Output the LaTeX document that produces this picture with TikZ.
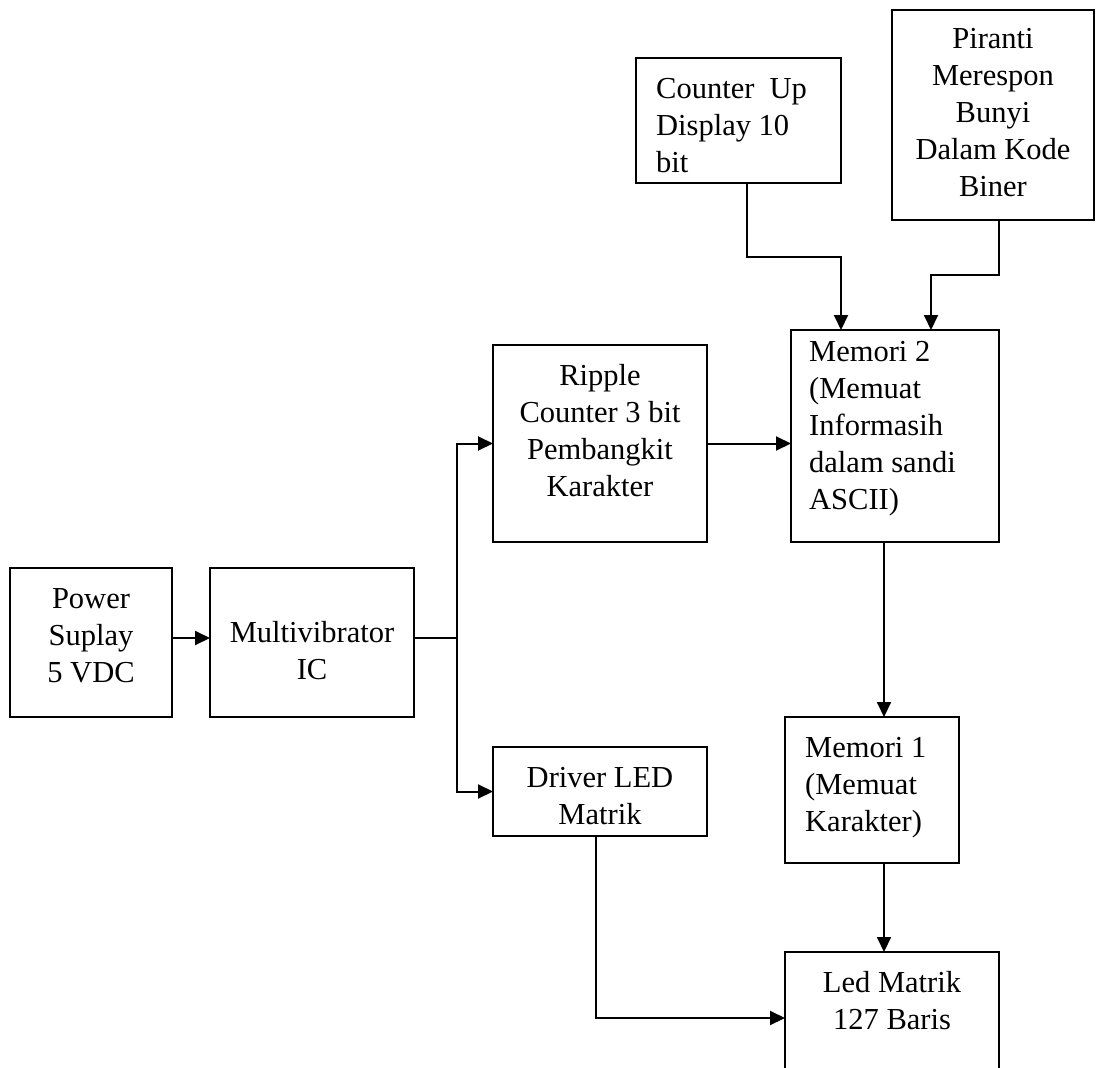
\documentclass[tikz,border=0pt]{standalone}
\usepackage{fontspec}
\setmainfont{Liberation Serif}
\usetikzlibrary{arrows.meta}
\begin{document}
\begin{tikzpicture}[x=1pt,y=-1pt,
  box/.style={draw,line width=2pt,inner sep=0pt,outer sep=0pt,anchor=north west},
  txt/.style={inner sep=0pt,font=\fontsize{30.5}{37}\selectfont},
  arr/.style={line width=2pt,-{Triangle[length=15pt,width=14pt]}},
  ln/.style={line width=2pt}]
\useasboundingbox (0,0) rectangle (1096,1068);

% boxes
\node[box,minimum width=162pt,minimum height=149pt] (power)   at (10,568)  {};
\node[box,minimum width=204pt,minimum height=149pt] (multi)   at (210,568) {};
\node[box,minimum width=214pt,minimum height=197pt] (ripple)  at (493,345) {};
\node[box,minimum width=214pt,minimum height=89pt]  (driver)  at (493,747) {};
\node[box,minimum width=208pt,minimum height=212pt] (mem2)    at (791,330) {};
\node[box,minimum width=205pt,minimum height=125pt] (counter) at (636,58)  {};
\node[box,minimum width=202pt,minimum height=210pt] (piranti) at (892,10)  {};
\node[box,minimum width=174pt,minimum height=146pt] (mem1)    at (785,717) {};
\node[box,minimum width=214pt,minimum height=140pt] (led)     at (785,952) {};

% texts
\node[txt,anchor=north,align=center] (powert) at (91,582.1) {\strut Power\\Suplay\\5 VDC};
\node[txt,anchor=north,align=center] (multit) at (312,616.1) {\strut Multivibrator\\IC};
\node[txt,anchor=north,align=center] (ripplet) at (600,359.1) {\strut Ripple\\Counter 3 bit\\Pembangkit\\Karakter};
\node[txt,anchor=north west,align=left] (mem2t) at (809,335.1) {\strut Memori 2\\(Memuat\\Informasih\\dalam sandi\\ASCII)};
\node[txt,anchor=north west,align=left] (countert) at (656,72.1) {\strut Counter~~Up\\Display 10\\bit};
\node[txt,anchor=north,align=center] (pirantit) at (993,22.1) {\strut Piranti\\Merespon\\Bunyi\\Dalam Kode\\Biner};
\node[txt,anchor=north,align=center] (drivert) at (600,761.1) {\strut Driver LED\\Matrik};
\node[txt,anchor=north west,align=left] (mem1t) at (805,731.1) {\strut Memori 1\\(Memuat\\Karakter)};
\node[txt,anchor=north,align=center] (ledt) at (892,966.1) {\strut Led Matrik\\127 Baris};

% helper coordinates
\coordinate (ya)  at (0,638);
\coordinate (bus) at (457,0);
\coordinate (cex) at (747,0);
\coordinate (cy)  at (0,257);
\coordinate (cx)  at (841,0);
\coordinate (pex) at (999,0);
\coordinate (py)  at (0,275);
\coordinate (px)  at (931,0);
\coordinate (mx)  at (884,0);
\coordinate (dx)  at (596,0);
\coordinate (dy)  at (0,1018);

% connectors
\draw[arr] (power.east |- ya) -- (multi.west |- ya);
\draw[ln] (multi.east |- ya) -- (bus |- ya);
\draw[arr] (bus |- ya) |- (ripple.west);
\draw[arr] (bus |- ya) |- (driver.west);
\draw[arr] (ripple.east) -- (ripple.east -| mem2.west);
\draw[arr] (cex |- counter.south) -- (cex |- cy) -| (cx |- mem2.north);
\draw[arr] (pex |- piranti.south) -- (pex |- py) -| (px |- mem2.north);
\draw[arr] (mx |- mem2.south) -- (mx |- mem1.north);
\draw[arr] (mx |- mem1.south) -- (mx |- led.north);
\draw[arr] (dx |- driver.south) |- (led.west |- dy);
\end{tikzpicture}
\end{document}
